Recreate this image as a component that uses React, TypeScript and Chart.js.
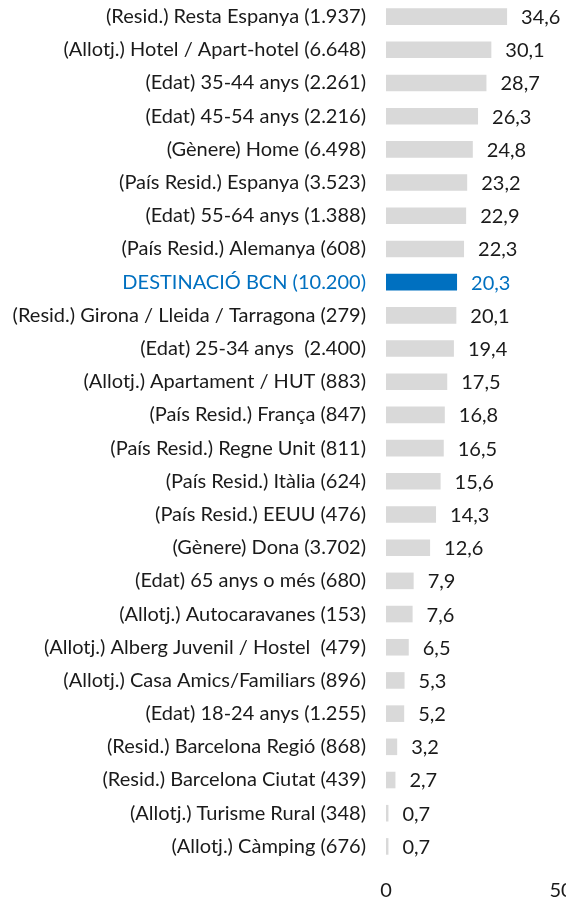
import React, { useEffect, useRef } from "react";
import { Chart, registerables } from "chart.js";

Chart.register(...registerables);

const categories: string[] = [
  "(Resid.) Resta Espanya (1.937)",
  "(Allotj.) Hotel / Apart-hotel (6.648)",
  "(Edat) 35-44 anys (2.261)",
  "(Edat) 45-54 anys (2.216)",
  "(Gènere) Home (6.498)",
  "(País Resid.) Espanya (3.523)",
  "(Edat) 55-64 anys (1.388)",
  "(País Resid.) Alemanya (608)",
  "DESTINACIÓ BCN (10.200)",
  "(Resid.) Girona / Lleida / Tarragona (279)",
  "(Edat) 25-34 anys  (2.400)",
  "(Allotj.) Apartament / HUT (883)",
  "(País Resid.) França (847)",
  "(País Resid.) Regne Unit (811)",
  "(País Resid.) Itàlia (624)",
  "(País Resid.) EEUU (476)",
  "(Gènere) Dona (3.702)",
  "(Edat) 65 anys o més (680)",
  "(Allotj.) Autocaravanes (153)",
  "(Allotj.) Alberg Juvenil / Hostel  (479)",
  "(Allotj.) Casa Amics/Familiars (896)",
  "(Edat) 18-24 anys (1.255)",
  "(Resid.) Barcelona Regió (868)",
  "(Resid.) Barcelona Ciutat (439)",
  "(Allotj.) Turisme Rural (348)",
  "(Allotj.) Càmping (676)",
];

const values: number[] = [
  34.6, 30.1, 28.7, 26.3, 24.8, 23.2, 22.9, 22.3, 20.3, 20.1, 19.4, 17.5, 16.8,
  16.5, 15.6, 14.3, 12.6, 7.9, 7.6, 6.5, 5.3, 5.2, 3.2, 2.7, 0.7, 0.7,
];

const highlightCategory = "DESTINACIÓ BCN (10.200)";
const xMin = 0;
const xMax = 50;
const xStep = 50;

const BLUE = "#0070C0";
const GREY = "#D9D9D9";
const TEXT = "#1a1a1a";
const FONT_FAMILY = "Lato";
const FONT_SIZE = 20;

const fmt = (v: number) => v.toFixed(1).replace(".", ",");

const valueLabelPlugin = {
  id: "valueLabels",
  afterDatasetsDraw(chart: any) {
    const ctx = chart.ctx;
    const meta = chart.getDatasetMeta(0);
    ctx.save();
    ctx.font = `${FONT_SIZE}px ${FONT_FAMILY}`;
    ctx.textBaseline = "middle";
    ctx.textAlign = "left";
    meta.data.forEach((bar: any, i: number) => {
      ctx.fillStyle = categories[i] === highlightCategory ? BLUE : TEXT;
      ctx.fillText(fmt(values[i]), bar.x + 14, bar.y + 1);
    });
    ctx.restore();
  },
};

export default function App() {
  const canvasRef = useRef<HTMLCanvasElement | null>(null);

  useEffect(() => {
    let chart: Chart | null = null;
    let cancelled = false;
    const build = () => {
      if (cancelled || !canvasRef.current) return;
      chart = new Chart(canvasRef.current, {
        type: "bar",
        data: {
          labels: categories,
          datasets: [
            {
              data: values,
              backgroundColor: categories.map((c) =>
                c === highlightCategory ? BLUE : GREY
              ),
              borderWidth: 0,
              barPercentage: 0.5,
              categoryPercentage: 1,
            },
          ],
        },
        options: {
          indexAxis: "y",
          responsive: false,
          animation: false,
          layout: { padding: { left: 0, right: 39, top: 0, bottom: 0 } },
          plugins: {
            legend: { display: false },
            tooltip: { enabled: false },
          },
          scales: {
            x: {
              min: xMin,
              max: xMax,
              grid: { display: false, drawTicks: false },
              border: { display: false },
              ticks: {
                stepSize: xStep,
                padding: 16,
                color: TEXT,
                font: { family: FONT_FAMILY, size: FONT_SIZE },
              },
              afterFit: (scale: any) => {
                scale.height = 37;
                scale.paddingLeft = 0;
                scale.paddingRight = 0;
              },
            },
            y: {
              grid: { display: false, drawTicks: false },
              border: { display: false },
              ticks: {
                autoSkip: false,
                padding: 20,
                color: (c: any) =>
                  categories[c.index] === highlightCategory ? BLUE : TEXT,
                font: { family: FONT_FAMILY, size: FONT_SIZE },
              },
              afterFit: (scale: any) => {
                scale.width = 386;
                scale.paddingTop = 0;
                scale.paddingBottom = 0;
              },
            },
          },
        },
        plugins: [valueLabelPlugin],
      });
    };
    const fontsApi = (document as any).fonts;
    if (fontsApi && fontsApi.load) {
      fontsApi
        .load(`${FONT_SIZE}px ${FONT_FAMILY}`)
        .then(build, build);
    } else {
      build();
    }
    return () => {
      cancelled = true;
      if (chart) chart.destroy();
    };
  }, []);

  return (
    <div
      style={{
        position: "fixed",
        left: 0,
        top: 0,
        width: 566,
        height: 900,
        overflow: "hidden",
        background: "#fff",
      }}
    >
      <canvas ref={canvasRef} width={600} height={900} />
    </div>
  );
}
